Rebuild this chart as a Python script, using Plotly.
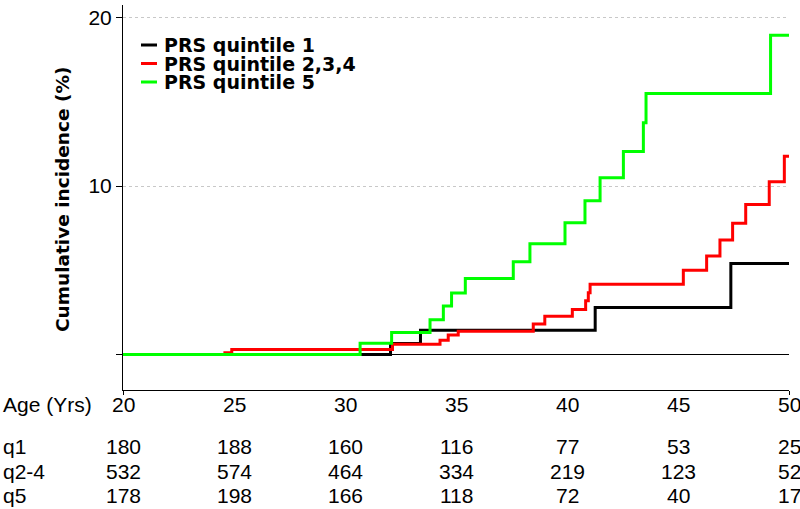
import plotly.graph_objects as go

# Cumulative incidence (%) step curves
q1_age = [20, 32.05, 33.4, 41.27, 47.38, 50]
q1_inc = [0, 0.66, 1.45, 2.80, 5.41, 5.41]

q24_age = [20, 24.59, 24.9, 32.14, 34.28, 34.65, 35.1, 38.48, 39.0, 40.24, 40.84,
           40.96, 41.04, 45.24, 46.29, 46.89, 47.46, 48.05, 49.11, 49.79, 50]
q24_inc = [0, 0.11, 0.31, 0.61, 0.86, 1.16, 1.39, 1.81, 2.27, 2.68, 3.19,
           3.67, 4.17, 5.01, 5.85, 6.80, 7.79, 8.91, 10.26, 11.78, 11.78]

q5_age = [20, 30.68, 32.1, 33.83, 34.43, 34.8, 35.42, 37.58, 38.33, 39.91, 40.81,
          41.49, 42.54, 43.44, 43.56, 49.17, 50]
q5_inc = [0, 0.68, 1.32, 2.07, 2.88, 3.65, 4.52, 5.51, 6.58, 7.82, 9.13,
          10.49, 12.06, 13.76, 15.50, 18.96, 18.96]

# numbers at risk table
table_ages = [20, 25, 30, 35, 40, 45, 50]
risk_q1 = [180, 188, 160, 116, 77, 53, 25]
risk_q24 = [532, 574, 464, 334, 219, 123, 52]
risk_q5 = [178, 198, 166, 118, 72, 40, 17]

names = ["PRS quintile 1", "PRS quintile 2,3,4", "PRS quintile 5"]
colors = ["#000000", "#ff0000", "#00ff00"]

FONT = "Liberation Sans, Arial, sans-serif"
BOLD_FONT = "DejaVu Sans, Liberation Sans, Arial, sans-serif"

fig = go.Figure()

for x, y, name, color in zip([q1_age, q24_age, q5_age], [q1_inc, q24_inc, q5_inc], names, colors):
    fig.add_trace(go.Scatter(
        x=x, y=y,
        mode="lines",
        line=dict(color=color, width=3, shape="hv"),
        name=name,
        showlegend=False,
    ))

annotations = []
shapes = []

# hand-made legend (short line samples, tight spacing)
leg_y = [45, 63.5, 82]
for py, name, color in zip(leg_y, names, colors):
    yp = (390 - py) / 385
    shapes.append(dict(type="line", xref="paper", yref="paper",
                       x0=(141 - 123) / 666, x1=(157 - 123) / 666, y0=yp, y1=yp,
                       line=dict(color=color, width=3)))
    annotations.append(dict(text="<b>%s</b>" % name, xref="paper", yref="paper",
                            x=(162 - 123) / 666, y=yp, xanchor="left", yanchor="middle",
                            showarrow=False, font=dict(size=19, color="black", family=BOLD_FONT)))

# y axis title
annotations.append(dict(text="<b>Cumulative incidence (%)</b>", xref="paper", yref="paper",
                        x=(62 - 123) / 666, y=(390 - 200) / 385, textangle=-90,
                        xanchor="center", yanchor="middle", showarrow=False,
                        font=dict(size=18.5, color="black", family=BOLD_FONT)))

# risk table
rows = [("Age (Yrs)", table_ages, 405), ("q1", risk_q1, 446), ("q2-4", risk_q24, 471), ("q5", risk_q5, 495)]
for label, vals, py in rows:
    yp = (390 - py) / 385
    annotations.append(dict(text=label, xref="paper", yref="paper", x=-122 / 666, y=yp,
                            xanchor="left", yanchor="middle", showarrow=False,
                            font=dict(size=21, color="black", family=FONT)))
    for a, v in zip(table_ages, vals):
        annotations.append(dict(text=str(v), xref="x", yref="paper", x=a, y=yp,
                                xanchor="center", yanchor="middle", showarrow=False,
                                font=dict(size=21, color="black", family=FONT)))

fig.update_layout(
    width=800, height=509,
    margin=dict(l=123, r=11, t=5, b=119),
    plot_bgcolor="white",
    paper_bgcolor="white",
    font=dict(family=FONT, color="black", size=21),
    xaxis=dict(
        range=[20, 50],
        tickvals=[20, 50],
        showticklabels=False,
        ticks="outside", ticklen=4, tickcolor="black",
        showline=True, linecolor="black", linewidth=1,
        showgrid=False, zeroline=False,
    ),
    yaxis=dict(
        range=[-2.1, 20.75],
        tickvals=[0, 10, 20],
        ticktext=["", "10", "20"],
        ticks="outside", ticklen=6, tickcolor="black",
        tickfont=dict(size=21),
        showline=True, linecolor="black", linewidth=1,
        showgrid=True, gridcolor="#c8c8c8", griddash="dot", gridwidth=1,
        zeroline=True, zerolinecolor="black", zerolinewidth=1,
    ),
    annotations=annotations,
    shapes=shapes,
)

# drop the default page margin so the 800x509 figure fills the window
fig.write_html("out.html", config={"displayModeBar": False},
               post_script="document.body.style.margin='0';document.body.style.overflow='hidden';")
